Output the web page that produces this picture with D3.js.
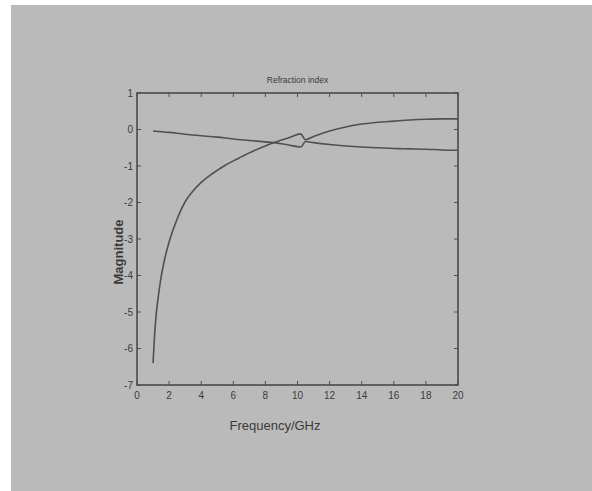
<!doctype html>
<html>
<head>
<script src="https://d3js.org/d3.v7.min.js"></script>
<style>
  body { margin: 0; background: #fff; }
  text { font-family: "Liberation Sans", Arial, sans-serif; fill: #3a3a3a; }
</style>
</head>
<body>
<script>
  // curve 1 (rising) and curve 2 (falling)
  var freq1 = [1.0, 1.1, 1.2, 1.35, 1.5, 1.75, 2.0, 2.5, 3.0, 3.5, 4.0, 4.5, 5.0, 5.5, 6.0, 6.5, 7.0, 7.5, 8.0, 8.5, 9.0, 9.5, 10.2, 10.5, 11, 12, 13, 14, 15, 16, 17, 18, 19, 20];
  var mag1  = [-6.4, -5.6, -5.05, -4.5, -4.05, -3.5, -3.08, -2.45, -1.98, -1.68, -1.45, -1.27, -1.12, -0.98, -0.86, -0.75, -0.64, -0.54, -0.45, -0.36, -0.29, -0.22, -0.12, -0.28, -0.19, -0.04, 0.07, 0.15, 0.20, 0.23, 0.26, 0.28, 0.29, 0.29];
  var freq2 = [1, 2, 3, 4, 5, 6, 7, 8, 8.5, 9, 9.5, 10.2, 10.5, 11, 12, 13, 14, 15, 16, 17, 18, 19, 20];
  var mag2  = [-0.04, -0.08, -0.13, -0.17, -0.21, -0.26, -0.30, -0.34, -0.36, -0.39, -0.43, -0.48, -0.33, -0.36, -0.41, -0.45, -0.48, -0.50, -0.52, -0.53, -0.54, -0.56, -0.57];
  var xTicks = [0, 2, 4, 6, 8, 10, 12, 14, 16, 18, 20];
  var yTicks = [1, 0, -1, -2, -3, -4, -5, -6, -7];

  var width = 592, height = 491;
  var pLeft = 137, pRight = 458, pTop = 93, pBottom = 385;

  var svg = d3.select("body").append("svg")
      .attr("width", width)
      .attr("height", height);

  svg.append("rect")
      .attr("x", 11).attr("y", 5)
      .attr("width", width - 11).attr("height", height - 5)
      .attr("fill", "#bababa");

  var x = d3.scaleLinear().domain([0, 20]).range([pLeft, pRight]);
  var y = d3.scaleLinear().domain([-7, 1]).range([pBottom, pTop]);

  // ticks pointing inward on all four sides
  var tickLen = 4;
  var ax = svg.append("g").attr("stroke", "#505050").attr("stroke-width", 1);
  xTicks.forEach(function(t) {
    ax.append("line").attr("x1", x(t)).attr("x2", x(t)).attr("y1", pBottom).attr("y2", pBottom - tickLen);
    ax.append("line").attr("x1", x(t)).attr("x2", x(t)).attr("y1", pTop).attr("y2", pTop + tickLen);
  });
  yTicks.forEach(function(t) {
    ax.append("line").attr("x1", pLeft).attr("x2", pLeft + tickLen).attr("y1", y(t)).attr("y2", y(t));
    ax.append("line").attr("x1", pRight).attr("x2", pRight - tickLen).attr("y1", y(t)).attr("y2", y(t));
  });

  svg.append("rect")
      .attr("x", pLeft).attr("y", pTop)
      .attr("width", pRight - pLeft).attr("height", pBottom - pTop)
      .attr("fill", "none").attr("stroke", "#4a4a4a").attr("stroke-width", 1.6);

  svg.selectAll(".xl").data(xTicks).enter().append("text")
      .attr("x", function(d) { return x(d); })
      .attr("y", pBottom + 14)
      .attr("text-anchor", "middle")
      .attr("font-size", 10)
      .text(function(d) { return d; });

  svg.selectAll(".yl").data(yTicks).enter().append("text")
      .attr("x", pLeft - 4)
      .attr("y", function(d) { return y(d) + 3.5; })
      .attr("text-anchor", "end")
      .attr("font-size", 10)
      .text(function(d) { return d; });

  var line = d3.line()
      .x(function(d) { return x(d[0]); })
      .y(function(d) { return y(d[1]); })
      .curve(d3.curveMonotoneX);

  svg.append("path")
      .datum(d3.zip(freq1, mag1))
      .attr("d", line)
      .attr("fill", "none").attr("stroke", "#505050").attr("stroke-width", 1.6);

  svg.append("path")
      .datum(d3.zip(freq2, mag2))
      .attr("d", line)
      .attr("fill", "none").attr("stroke", "#505050").attr("stroke-width", 1.6);

  svg.append("text")
      .attr("x", (pLeft + pRight) / 2).attr("y", 83)
      .attr("text-anchor", "middle")
      .attr("font-size", 8.5)
      .text("Refraction index");

  svg.append("text")
      .attr("x", 275).attr("y", 430)
      .attr("text-anchor", "middle")
      .attr("font-size", 13)
      .text("Frequency/GHz");

  svg.append("text")
      .attr("transform", "translate(123,252) rotate(-90)")
      .attr("text-anchor", "middle")
      .attr("font-size", 13)
      .attr("font-weight", "bold")
      .attr("fill", "#2a2a2a")
      .text("Magnitude");
</script>
</body>
</html>
